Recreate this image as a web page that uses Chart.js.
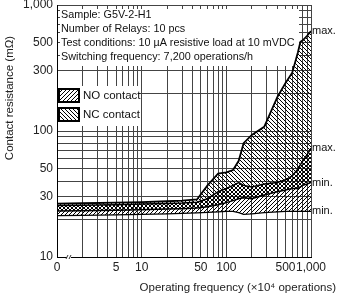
<!DOCTYPE html>
<html>
<head>
<meta charset="utf-8">
<script src="https://cdn.jsdelivr.net/npm/chart.js@4/dist/chart.umd.min.js"></script>
<style>
  html, body { margin: 0; padding: 0; background: #fff; }
  #wrap { width: 343px; height: 297px; position: relative; }
</style>
</head>
<body>
<div id="wrap"><canvas id="chart"></canvas></div>
<script>
// Operações (x10^4) onde as curvas foram lidas
const operations = [1, 2, 5, 10, 20, 30, 45, 60, 80, 100, 120, 140, 160, 200, 280, 400, 500, 600, 700, 750, 800, 900, 1000];
// Contato NC (faixa superior)
const ncMax = [26.5, 26.7, 27, 27.3, 27.7, 28, 28.6, 37, 46, 47, 49, 58, 80, 93, 108, 186, 240, 290, 420, 510, 525, 570, 620];
const ncMin = [23.2, 23.3, 23.5, 23.7, 24, 24.2, 24.5, 25, 26, 27, 28, 29, 29.5, 29, 31, 33, 34, 35, 35, 36, 37, 38, 39];
// Contato NO (faixa inferior)
const noMax = [25.6, 25.8, 26, 26.3, 26.6, 26.8, 27.2, 29, 33, 35, 37, 39, 37, 36, 38, 39, 41, 44, 50, 54, 58, 65, 73];
const noMin = [21.3, 21.4, 21.6, 21.8, 22, 22.2, 22.4, 22.6, 22.8, 23, 23, 22.5, 21.8, 22, 22.5, 22.8, 23, 23, 23, 23, 23, 23, 23];

const xGridValues = [1, 2, 3, 4, 5, 6, 7, 8, 9, 10, 20, 30, 40, 50, 60, 70, 80, 90, 100, 200, 300, 400, 500, 600, 700, 800, 900, 1000];
const yGridValues = [10, 20, 30, 40, 50, 60, 70, 80, 90, 100, 200, 300, 400, 500, 600, 700, 800, 900, 1000];
const xTickLabels = { 1: '0', 5: '5', 10: '10', 50: '50', 100: '100', 500: '500', 1000: '1,000' };
const yTickLabels = { 10: '10', 30: '30', 50: '50', 100: '100', 300: '300', 500: '500', 1000: '1,000' };

const infoLines = [
    'Sample: G5V-2-H1',
    'Number of Relays: 10 pcs',
    'Test conditions: 10 \u00B5A resistive load at 10 mVDC',
    'Switching frequency: 7,200 operations/h'
];
const legendLabels = ['NO contact', 'NC contact'];
const endLabels = ['max.', 'min.', 'max.', 'min.'];
const xTitle = 'Operating frequency (\u00D710\u2074 operations)';
const yTitle = 'Contact resistance (m\u03A9)';

const FONT = '"Liberation Sans", Arial, sans-serif';

/**
 * Cria um padrão de hachura diagonal.
 * @param {CanvasRenderingContext2D} ctx - contexto do gráfico
 * @param {string} dir - '/' ou '\\'
 */
function makeHatch(ctx, dir) {
    const c = document.createElement('canvas');
    c.width = 4;
    c.height = 4;
    const g = c.getContext('2d');
    g.strokeStyle = '#000';
    g.lineWidth = 1;
    g.beginPath();
    if (dir === '/') {
        g.moveTo(-1, 1); g.lineTo(1, -1);
        g.moveTo(0, 4); g.lineTo(4, 0);
        g.moveTo(3, 5); g.lineTo(5, 3);
    } else {
        g.moveTo(-1, 3); g.lineTo(1, 5);
        g.moveTo(0, 0); g.lineTo(4, 4);
        g.moveTo(3, -1); g.lineTo(5, 1);
    }
    g.stroke();
    return ctx.createPattern(c, 'repeat');
}

function toPoints(values) {
    return operations.map((x, i) => ({ x: x, y: values[i] }));
}

const canvas = document.getElementById('chart');
const ctx2d = canvas.getContext('2d');
const hatchNO = makeHatch(ctx2d, '/');
const hatchNC = makeHatch(ctx2d, '\\');

// Textos, caixa de informações e legenda desenhados sobre a grade
const overlayPlugin = {
    id: 'overlay',
    beforeDatasetsDraw(chart) {
        const { ctx, chartArea: ca } = chart;
        ctx.save();
        // caixa de informações
        ctx.fillStyle = '#fff';
        ctx.fillRect(ca.left + 3, ca.top + 4, 299 - ca.left - 3, 66 - ca.top - 4);
        ctx.fillStyle = '#111';
        ctx.font = '10.8px ' + FONT;
        ctx.textBaseline = 'middle';
        ctx.textAlign = 'left';
        infoLines.forEach((line, i) => ctx.fillText(line, ca.left + 4, ca.top + 10 + i * 14));

        // legenda
        ctx.fillStyle = '#fff';
        ctx.fillRect(ca.left + 1, 86, 80, 40);
        [hatchNO, hatchNC].forEach((pat, i) => {
            const y = 89 + i * 19;
            ctx.fillStyle = pat;
            ctx.fillRect(ca.left + 2, y, 20, 13);
            ctx.strokeStyle = '#000';
            ctx.lineWidth = 2;
            ctx.strokeRect(ca.left + 2, y, 20, 13);
            ctx.fillStyle = '#111';
            ctx.font = '11.5px ' + FONT;
            ctx.fillText(legendLabels[i], ca.left + 26, y + 7);
        });
        ctx.restore();
    },
    afterDraw(chart) {
        const { ctx, chartArea: ca, scales } = chart;
        ctx.save();
        ctx.fillStyle = '#111';
        ctx.font = '11px ' + FONT;
        ctx.textAlign = 'left';
        ctx.textBaseline = 'middle';
        chart.data.datasets.forEach((ds, i) => {
            const last = ds.data[ds.data.length - 1];
            ctx.fillText(endLabels[i], ca.right + 1, scales.y.getPixelForValue(last.y));
        });

        // títulos dos eixos
        ctx.font = '11.5px ' + FONT;
        ctx.fillStyle = '#222';
        ctx.textAlign = 'right';
        ctx.fillText(xTitle, 336, 288);
        ctx.textAlign = 'center';
        ctx.translate(10, 98);
        ctx.rotate(-Math.PI / 2);
        ctx.fillText(yTitle, 0, 0);
        ctx.restore();

        // marca de interrupção do eixo x
        ctx.save();
        ctx.strokeStyle = '#333';
        ctx.lineWidth = 1;
        ctx.fillStyle = '#fff';
        ctx.fillRect(ca.left + 10, ca.bottom - 1, 4, 3);
        ctx.beginPath();
        ctx.moveTo(ca.left + 9, ca.bottom + 2); ctx.lineTo(ca.left + 11, ca.bottom - 2);
        ctx.moveTo(ca.left + 12, ca.bottom + 2); ctx.lineTo(ca.left + 14, ca.bottom - 2);
        ctx.stroke();
        ctx.restore();
    }
};

new Chart(canvas, {
    type: 'line',
    data: {
        datasets: [
            { label: 'NC max', data: toPoints(ncMax), borderColor: '#000', borderWidth: 1.8, backgroundColor: hatchNC, fill: '+1', pointRadius: 0, tension: 0 },
            { label: 'NC min', data: toPoints(ncMin), borderColor: '#000', borderWidth: 1.5, fill: false, pointRadius: 0, tension: 0 },
            { label: 'NO max', data: toPoints(noMax), borderColor: '#000', borderWidth: 1.5, backgroundColor: hatchNO, fill: '+1', pointRadius: 0, tension: 0 },
            { label: 'NO min', data: toPoints(noMin), borderColor: '#000', borderWidth: 1.3, fill: false, pointRadius: 0, tension: 0 }
        ]
    },
    options: {
        responsive: true,
        maintainAspectRatio: false,
        animation: false,
        layout: { padding: { top: 5, right: 32, left: 0, bottom: 0 } },
        plugins: {
            legend: { display: false },
            tooltip: { enabled: false }
        },
        scales: {
            x: {
                type: 'logarithmic',
                min: 1,
                max: 1000,
                afterBuildTicks: scale => { scale.ticks = xGridValues.map(v => ({ value: v })); },
                afterFit: scale => { scale.height = 40; },
                ticks: {
                    callback: v => xTickLabels[v] || '',
                    autoSkip: false,
                    maxRotation: 0,
                    padding: 3,
                    color: '#222',
                    font: { family: FONT, size: 12 }
                },
                grid: { color: '#444', lineWidth: 1, drawTicks: false },
                border: { color: '#000', width: 1 }
            },
            y: {
                type: 'logarithmic',
                min: 10,
                max: 1000,
                afterBuildTicks: scale => { scale.ticks = yGridValues.map(v => ({ value: v })); },
                afterFit: scale => {
                    scale.width = 57;
                    scale.paddingTop = 0;
                    scale.paddingBottom = 0;
                },
                ticks: {
                    callback: v => yTickLabels[v] || '',
                    autoSkip: false,
                    padding: 4,
                    color: '#222',
                    font: { family: FONT, size: 12 }
                },
                grid: { color: '#444', lineWidth: 1, drawTicks: false },
                border: { color: '#000', width: 1 }
            }
        }
    },
    plugins: [overlayPlugin]
});
</script>
</body>
</html>
